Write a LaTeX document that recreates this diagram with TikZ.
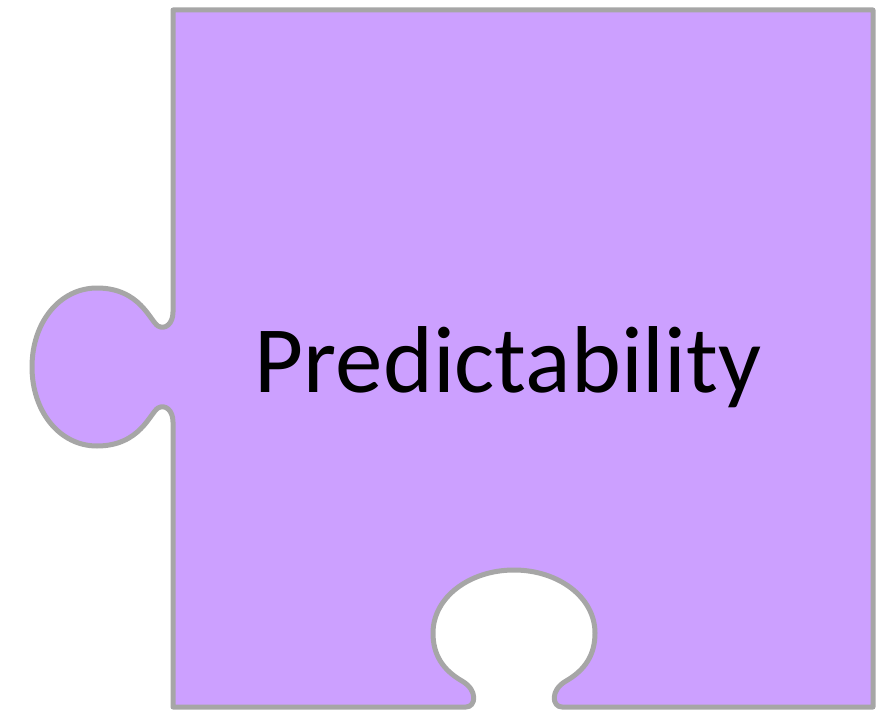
\documentclass[tikz,border=0pt]{standalone}
\usepackage{fontspec}
\setmainfont{Carlito}
\definecolor{piecefill}{RGB}{204,160,255}
\definecolor{piecedraw}{RGB}{166,166,166}
\begin{document}
\begin{tikzpicture}[x=1pt,y=-1pt,
  piece/.style={fill=piecefill,draw=piecedraw,line width=5pt,line join=round},
  label/.style={font=\fontsize{95}{110}\selectfont,text=black,inner sep=0pt,anchor=base}]
\useasboundingbox (0,0) rectangle (888,711);
\path[piece] (173,10) -- (873,10) -- (873,707) -- (562,707)
  .. controls (552,707) and (550,690) .. (566,681)
  .. controls (585,670) and (595,655) .. (595,633)
  .. controls (595,597) and (558,570) .. (514,570)
  .. controls (470,570) and (433,597) .. (433,633)
  .. controls (433,655) and (443,670) .. (462,681)
  .. controls (478,690) and (476,707) .. (466,707)
  -- (173,707) -- (173,422)
  .. controls (173,410) and (165,404) .. (158,408)
  .. controls (150,413) and (140,446) .. (97,446)
  .. controls (60,446) and (32,412) .. (32,367)
  .. controls (32,322) and (60,288) .. (97,288)
  .. controls (140,288) and (150,321) .. (158,326)
  .. controls (165,330) and (173,324) .. (173,312)
  -- cycle;
\node[label] (t) at (508,392) {Predictability};
\end{tikzpicture}
\end{document}
